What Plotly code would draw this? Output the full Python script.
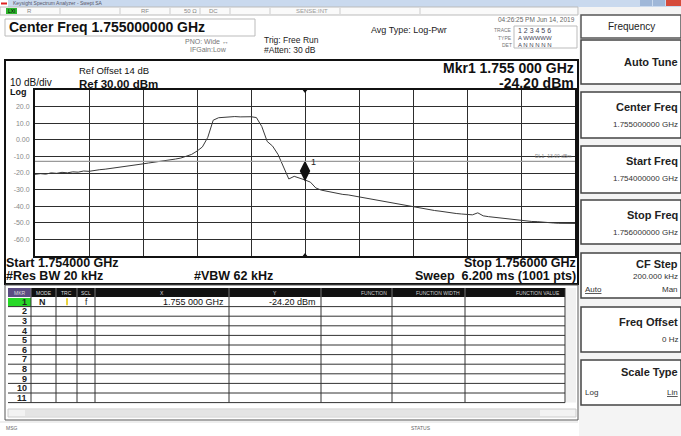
import plotly.graph_objects as go

W, H = 681, 436

# ---------------- data ----------------
start_ghz = 1.754
stop_ghz = 1.756
step_khz = 20
trace_dbm = [
    -20.8, -20.4, -20.7, -19.9, -20.2, -19.6, -19.9, -19.3, -19.5, -18.8,
    -19.0, -18.4, -18.0, -17.7, -17.3, -16.8, -16.5, -16.0, -15.4, -15.1,
    -14.5, -14.0, -13.6, -13.0, -12.6, -12.0, -11.6, -11.0, -9.8, -8.8,
    -6.8, -4.3, 1.5, 11.8, 13.3, 13.6, 13.9, 14.0, 13.8, 14.0,
    13.9, 13.4, 8.0, -1.0, -3.8, -8.8, -16.5, -23.6, -22.0, -23.0,
    -24.2, -25.5, -29.0, -30.3, -31.0, -31.8, -32.3, -32.9, -33.2, -33.8,
    -34.3, -34.9, -35.6, -36.2, -36.6, -37.4, -37.8, -38.6, -39.4, -39.8,
    -40.4, -40.8, -41.5, -42.0, -42.6, -43.0, -43.6, -43.9, -44.4, -44.7,
    -45.0, -45.2, -44.0, -45.8, -46.3, -46.7, -47.0, -47.4, -47.9, -48.2,
    -48.6, -48.9, -49.2, -49.3, -49.7, -49.8, -50.1, -50.3, -50.4, -50.5,
    -50.4,
]
trace_ghz = [start_ghz + i * step_khz * 1e-6 for i in range(len(trace_dbm))]

ref_level = 30
db_per_div = 10
y_ticks = [20, 10, 0, -10, -20, -30, -40, -50, -60]
y_tick_text = ["20.0", "10.0", "0.00", "-10.0", "-20.0", "-30.0", "-40.0", "-50.0", "-60.0"]
display_line_dbm = -13.0
mkr_ghz = 1.755
mkr_dbm = -24.20

softkeys = [
    ("Auto Tune", None),
    ("Center Freq", "1.755000000 GHz"),
    ("Start Freq", "1.754000000 GHz"),
    ("Stop Freq", "1.756000000 GHz"),
    ("CF Step", "200.000 kHz"),
    ("Freq Offset", "0 Hz"),
    ("Scale Type", None),
]
table_headers = ["MKR", "MODE", "TRC", "SCL", "X", "Y", "FUNCTION", "FUNCTION WIDTH", "FUNCTION VALUE"]
row1 = ["1", "N", "|", "f", "1.755 000 GHz", "-24.20 dBm", "", "", ""]

FONT = "Liberation Sans, Arial, sans-serif"


def px(x):
    return x / W


def py(y):
    return 1 - y / H


shapes = []
annotations = []


def rect(x0, y0, x1, y1, fill=None, line=None, lw=1):
    shapes.append(dict(type="rect", xref="paper", yref="paper",
                       x0=px(x0), x1=px(x1), y0=py(y1), y1=py(y0),
                       fillcolor=fill if fill else "rgba(0,0,0,0)",
                       line=dict(color=line if line else "rgba(0,0,0,0)", width=lw if line else 0),
                       layer="below"))


def hline(x0, x1, y, color="#222", lw=1):
    shapes.append(dict(type="line", xref="paper", yref="paper",
                       x0=px(x0), x1=px(x1), y0=py(y), y1=py(y),
                       line=dict(color=color, width=lw)))


def vline(x, y0, y1, color="#222", lw=1):
    shapes.append(dict(type="line", xref="paper", yref="paper",
                       x0=px(x), x1=px(x), y0=py(y0), y1=py(y1),
                       line=dict(color=color, width=lw)))


def text(x, y, s, size=10, bold=False, anchor="left", color="#111", bg=None):
    if bold:
        s = "<b>" + s + "</b>"
    annotations.append(dict(xref="paper", yref="paper", x=px(x), y=py(y), text=s,
                            showarrow=False, xanchor=anchor, yanchor="middle",
                            font=dict(family=FONT, size=size, color=color),
                            bgcolor=bg, borderpad=0))


# ---------------- window chrome ----------------
rect(0, 0, 681, 7, fill="#c9d9ee")
rect(0, 0, 8, 7, fill="#ffffff")
hline(1, 7, 3.5, color="#d22", lw=2)
text(12, 3.5, "Keysight Spectrum Analyzer - Swept SA", size=5, color="#556")
rect(640, 0, 652, 6, fill="#9fb7d8")
rect(653, 0, 665, 6, fill="#9fb7d8")
rect(666, 0, 681, 6, fill="#d54b3b")

# status bar
rect(0, 7, 578, 15, fill="#fafafa", line="#bbb", lw=1)
rect(6, 8, 17, 14, fill="#2db52d")
text(11.5, 11, "LXI", size=5, color="#000", anchor="center")
text(26, 11, "R", size=6, color="#888")
text(140, 11, "RF", size=6, color="#888")
text(183, 11, "50 Ω", size=6, color="#888")
text(208, 11, "DC", size=6, color="#888")
text(295, 11, "SENSE:INT", size=6, color="#999")
for xx in [60, 120, 170, 200, 230, 270, 340, 420]:
    vline(xx, 8, 14, color="#ccc")
text(576, 19, "04:26:25 PM Jun 14, 2019", size=6.5, color="#666", anchor="right")

# centre freq box
rect(5, 19, 255, 36, fill="#ffffff", line="#bbb", lw=1)
text(8, 27.5, "Center Freq 1.755000000 GHz", size=14, bold=True, color="#111")
text(230, 42, "PNO: Wide ↔", size=7, color="#777", anchor="right")
text(189, 50, "IFGain:Low", size=7, color="#777")
text(263, 40, "Trig: Free Run", size=8.5, color="#222")
text(263, 49.5, "#Atten: 30 dB", size=8.5, color="#222")
text(370, 30, "Avg Type: Log-Pwr", size=9, color="#222")
text(513, 30, "TRACE", size=5, color="#777", anchor="right")
text(513, 38, "TYPE", size=5, color="#777", anchor="right")
text(513, 44.5, "DET", size=5, color="#777", anchor="right")
rect(514, 26, 577, 48, fill="#ffffff", line="#bbb", lw=1)
text(517, 30, "1 2 3 4 5 6", size=7, color="#445")
text(517, 38, "A WWWWW", size=6, color="#445")
text(517, 44.5, "A N N N N N", size=6, color="#445")

# chart frame
rect(5, 60, 578, 284, fill="#ffffff", line="#111", lw=2)
text(78, 71, "Ref Offset 14 dB", size=9.5, color="#111")
text(9, 82.5, "10 dB/div", size=10, color="#111")
text(78, 83.5, "Ref 30.00 dBm", size=11.5, bold=True, color="#111")
text(9, 91.5, "Log", size=9, bold=True, color="#111")
text(575, 68, "Mkr1 1.755 000 GHz", size=14, bold=True, color="#111", anchor="right")
text(575, 83, "-24.20 dBm", size=14, bold=True, color="#111", anchor="right")
text(5, 263, "Start 1.754000 GHz", size=12.5, bold=True, color="#111")
text(577, 263, "Stop 1.756000 GHz", size=12.5, bold=True, color="#111", anchor="right")
text(5, 275.5, "#Res BW 20 kHz", size=12.5, bold=True, color="#111")
text(193, 275.5, "#VBW 62 kHz", size=12.5, bold=True, color="#111")
text(577, 275.5, "Sweep  6.200 ms (1001 pts)", size=12.5, bold=True, color="#111", anchor="right")

# ---------------- marker table ----------------
cols = [8, 31, 56, 77, 95, 229, 321, 392, 465, 565]
hdr_top, hdr_bot = 288, 297
rect(5, 285, 578, 420, fill="#ffffff", line="#555", lw=1)
rect(cols[0], hdr_top, cols[-1], hdr_bot, fill="#111")
rect(cols[0], hdr_top, cols[1], hdr_bot, fill="#5b4c82")
for i, h in enumerate(table_headers):
    c0, c1 = cols[i], cols[i + 1]
    if i < 6:
        text((c0 + c1) / 2, (hdr_top + hdr_bot) / 2, h, size=5, color="#ddd", anchor="center")
    else:
        text(c1 - 4, (hdr_top + hdr_bot) / 2, h, size=5, color="#ccc", anchor="right")
    if i > 0:
        vline(c0, hdr_top, hdr_bot, color="#777")
row_h = 9.6
row0 = 297
for r in range(11):
    yc = row0 + row_h * r + row_h / 2
    hline(cols[0], cols[-1], row0 + row_h * (r + 1), color="#333")
    text(cols[1] - 3, yc, str(r + 1), size=9, bold=True, color="#222", anchor="right")
for c in cols[1:-1]:
    vline(c, hdr_bot, row0 + row_h * 11, color="#333")
vline(cols[-1], hdr_top, row0 + row_h * 11, color="#333")
rect(cols[0], row0 + 1, cols[1], row0 + row_h, fill="#27d827")
yc1 = row0 + row_h / 2
text(42, yc1, row1[1], size=9, bold=True, color="#222", anchor="center")
vline(67, yc1 - 3.5, yc1 + 3.5, color="#e3c400", lw=1.5)
text(86, yc1, row1[3], size=8.5, color="#222", anchor="center")
text(cols[5] - 4, yc1, row1[4], size=9, color="#111", anchor="right")
text(cols[6] - 4, yc1, row1[5], size=9, color="#111", anchor="right")
# scrollbars
rect(cols[-1] + 1, hdr_top, 576, row0 + row_h * 11, fill="#f0f0f0")
rect(cols[0], 409, 576, 417, fill="#f2f2f2", line="#ccc", lw=1)
rect(25, 410, 540, 416, fill="#e4e4e4")
text(5, 428, "MSG", size=5, color="#666")
text(410, 428, "STATUS", size=5, color="#666")
hline(0, 578, 422, color="#ddd")

# ---------------- softkeys ----------------
rect(579, 7, 681, 436, fill="#f4f4f4")
rect(581, 15, 681, 38, fill="#ffffff", line="#555", lw=1.5)
text(631, 26.5, "Frequency", size=10, color="#222", anchor="center")
boxes = [(40, 84), (92, 138), (146, 193), (200, 244), (253, 298), (307, 352), (360, 405)]
for (label, sub), (b0, b1) in zip(softkeys, boxes):
    rect(581, b0, 681, b1, fill="#ffffff", line="#444", lw=1.5)
    if sub is None and label == "Auto Tune":
        text(679, (b0 + b1) / 2, label, size=11, bold=True, color="#222", anchor="right")
    elif label == "CF Step":
        text(679, b0 + 11, label, size=11, bold=True, color="#222", anchor="right")
        text(679, b0 + 23, sub, size=8, color="#333", anchor="right")
        text(584, b0 + 36, "<u>Auto</u>", size=8, color="#333")
        text(679, b0 + 36, "Man", size=8, color="#333", anchor="right")
    elif label == "Scale Type":
        text(679, b0 + 12, label, size=11, bold=True, color="#222", anchor="right")
        text(584, b0 + 32, "Log", size=8, color="#333")
        text(679, b0 + 32, "<u>Lin</u>", size=8, color="#333", anchor="right")
    else:
        text(679, b0 + 15, label, size=11, bold=True, color="#222", anchor="right")
        text(679, b0 + 32, sub, size=8, color="#333", anchor="right")

# ---------------- graticule plot ----------------
fig = go.Figure()
fig.add_trace(go.Scatter(x=trace_ghz, y=trace_dbm, mode="lines",
                         line=dict(color="#3a3a3a", width=1), hoverinfo="skip"))
# marker diamond sitting on the trace point
fig.add_trace(go.Scatter(x=[mkr_ghz], y=[mkr_dbm + 5.4], mode="markers",
                         marker=dict(symbol="diamond-tall", size=15, color="#111"),
                         cliponaxis=False, hoverinfo="skip"))
# centre graticule markers
fig.add_trace(go.Scatter(x=[(start_ghz + stop_ghz) / 2, (start_ghz + stop_ghz) / 2],
                         y=[ref_level, ref_level - 10 * db_per_div], mode="markers",
                         marker=dict(symbol=["triangle-down", "triangle-up"], size=6, color="#111"),
                         cliponaxis=False, hoverinfo="skip"))
shapes.append(dict(type="line", xref="x", yref="y", x0=start_ghz, x1=stop_ghz,
                   y0=display_line_dbm, y1=display_line_dbm,
                   line=dict(color="#9a9a9a", width=1.2)))
annotations.append(dict(xref="x", yref="y", x=stop_ghz, y=display_line_dbm, text="DL1 -13.00 dBm",
                        showarrow=False, xanchor="right", yanchor="bottom", xshift=-2, yshift=0,
                        font=dict(family=FONT, size=5, color="#888")))
annotations.append(dict(xref="x", yref="y", x=mkr_ghz, y=mkr_dbm, text="1",
                        showarrow=False, xanchor="left", yanchor="bottom", xshift=4, yshift=11,
                        font=dict(family=FONT, size=9, color="#222")))

fig.update_layout(
    width=W, height=H, autosize=False,
    margin=dict(l=0, r=0, t=0, b=0),
    paper_bgcolor="#ffffff", plot_bgcolor="#ffffff",
    showlegend=False,
    shapes=shapes, annotations=annotations,
    font=dict(family=FONT),
    xaxis=dict(domain=[px(35), px(575)], range=[start_ghz, stop_ghz],
               dtick=0.0002, tick0=start_ghz, showgrid=True, gridcolor="#2e2e2e", gridwidth=1,
               showticklabels=False, ticks="", zeroline=False,
               showline=True, mirror=True, linecolor="#111", linewidth=2),
    yaxis=dict(domain=[py(256), py(90)], range=[ref_level - 10 * db_per_div, ref_level],
               tickvals=y_ticks, ticktext=y_tick_text, showgrid=True, gridcolor="#2e2e2e",
               gridwidth=1, zeroline=False, ticks="", ticklabelstandoff=2,
               tickfont=dict(family=FONT, size=7, color="#888"),
               showline=True, mirror=True, linecolor="#111", linewidth=2),
)

fig.write_html("out.html", config={"displayModeBar": False},
               post_script="document.body.style.margin='0px';document.body.style.overflow='hidden';")
